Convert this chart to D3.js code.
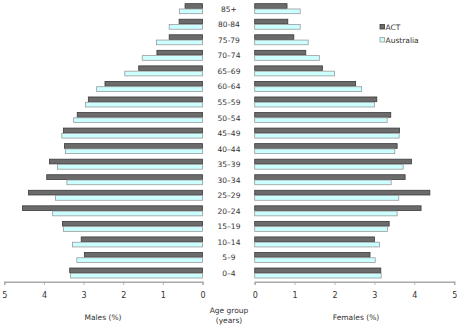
<!DOCTYPE html>
<html><head><meta charset="utf-8">
<script src="https://cdn.jsdelivr.net/npm/d3@7"></script>
<style>body{margin:0;background:#fff}svg{display:block}text{font-family:"DejaVu Sans",Verdana,sans-serif;fill:#333}</style>
</head><body><svg id="c" width="457" height="327"></svg>
<script>
const ageGroups = ["85+","80-84","75-79","70–74","65–69","60–64","55–59","50–54","45–49","40–44","35–39","30–34","25–29","20–24","15–19","10–14","5–9","0–4"];
const maleACT = [0.44,0.59,0.84,1.15,1.61,2.46,2.88,3.16,3.51,3.48,3.86,3.93,4.39,4.54,3.53,3.06,2.98,3.35];
const maleAus = [0.58,0.84,1.16,1.52,1.96,2.67,2.95,3.25,3.55,3.46,3.66,3.42,3.71,3.78,3.51,3.28,3.17,3.33];
const femaleACT = [0.81,0.83,0.98,1.28,1.70,2.53,3.06,3.41,3.63,3.57,3.93,3.77,4.39,4.17,3.37,3.00,2.89,3.16];
const femaleAus = [1.14,1.14,1.34,1.62,2.00,2.68,3.00,3.32,3.62,3.51,3.72,3.42,3.61,3.57,3.33,3.13,3.02,3.17];
const seriesNames = ["ACT","Australia"];
const tickValues = [0,1,2,3,4,5];

const colors = {ACT:{fill:"#6b6b6b",stroke:"#3a3a3a"},Australia:{fill:"#ccffff",stroke:"#9a9a9a"}};
const svg = d3.select("#c");
const axisY = 281.7;
const y = d3.scaleBand().domain(ageGroups).range([0.9, 280.8]);
const xL = d3.scaleLinear().domain([0,5]).range([202.5, 4.3]);
const xR = d3.scaleLinear().domain([0,5]).range([254.7, 454.2]);
const barH = 5.3, gap = 0;

function drawSide(x, dataACT, dataAus, left){
  const g = svg.append("g");
  [[dataACT,"ACT",0],[dataAus,"Australia",1]].forEach(([arr,name,k])=>{
    g.selectAll(null).data(arr).enter().append("rect")
      .attr("x",(d)=> left ? x(d) : x(0))
      .attr("width",(d)=> Math.abs(x(d)-x(0)))
      .attr("y",(d,i)=> y(ageGroups[i]) + y.bandwidth()/2 - barH + k*barH + 0.5 - 0.2)
      .attr("height",barH-0.6)
      .attr("fill",colors[name].fill)
      .attr("stroke",colors[name].stroke)
      .attr("stroke-width",0.8);
  });
  const ax = svg.append("g").attr("transform",`translate(0,${axisY})`)
    .call(d3.axisBottom(x).tickValues(tickValues).tickSize(3).tickFormat(d3.format("d")));
  ax.select(".domain").attr("stroke","#aaa").attr("stroke-width",1.5);
  ax.selectAll(".tick line").attr("stroke","#aaa");
  ax.selectAll(".tick text").attr("font-size",8).attr("y",11).style("fill","#333").attr("font-family","DejaVu Sans");
}
drawSide(xL, maleACT, maleAus, true);
drawSide(xR, femaleACT, femaleAus, false);

svg.append("g").selectAll("text").data(ageGroups).enter().append("text")
  .attr("x",229).attr("y",d=>y(d)+y.bandwidth()/2+3)
  .attr("text-anchor","middle").attr("font-size",7.5).text(d=>d);

svg.append("text").attr("x",103).attr("y",320).attr("text-anchor","middle").attr("font-size",7.5).text("Males (%)");
svg.append("text").attr("x",356).attr("y",320).attr("text-anchor","middle").attr("font-size",7.5).text("Females (%)");
svg.append("text").attr("x",229).attr("y",313).attr("text-anchor","middle").attr("font-size",7.5).text("Age group");
svg.append("text").attr("x",229).attr("y",323).attr("text-anchor","middle").attr("font-size",7.5).text("(years)");

const leg = svg.append("g");
seriesNames.forEach((n,i)=>{
  leg.append("rect").attr("x",380).attr("y",24.5+i*13).attr("width",4.5).attr("height",4.5)
    .attr("fill",colors[n].fill).attr("stroke",colors[n].stroke).attr("stroke-width",0.8);
  leg.append("text").attr("x",385.5).attr("y",30+i*13).attr("font-size",7.5).text(n);
});
</script></body></html>
